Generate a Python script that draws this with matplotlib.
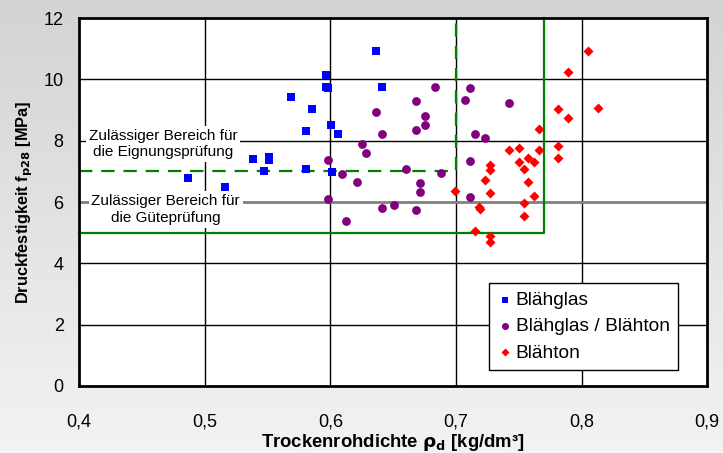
import numpy as np
import matplotlib
matplotlib.use("Agg")
import matplotlib.pyplot as plt

plt.rcParams['font.family'] = ['Liberation Sans', 'DejaVu Sans']

# Blähglas
glas_x = [0.487, 0.516, 0.5385, 0.551, 0.551, 0.547, 0.569, 0.5855, 0.581, 0.581,
          0.5965, 0.5965, 0.598, 0.6006, 0.606, 0.601, 0.636, 0.641]
glas_y = [6.78, 6.50, 7.40, 7.47, 7.38, 7.01, 9.44, 9.04, 8.33, 7.07,
          10.14, 9.76, 9.72, 8.50, 8.21, 6.97, 10.92, 9.76]

# Blähglas / Blähton
mix_x = [0.598, 0.598, 0.609, 0.6127, 0.621, 0.625, 0.628, 0.6366, 0.641, 0.641,
         0.651, 0.660, 0.668, 0.668, 0.668, 0.6715, 0.6715, 0.675, 0.675, 0.683,
         0.688, 0.707, 0.711, 0.711, 0.711, 0.715, 0.723, 0.742]
mix_y = [7.37, 6.11, 6.93, 5.39, 6.67, 7.89, 7.61, 8.94, 8.23, 5.82,
         5.90, 7.09, 9.28, 8.36, 5.75, 6.63, 6.33, 8.82, 8.51, 9.76,
         6.96, 9.32, 9.71, 7.33, 6.17, 8.21, 8.08, 9.22]

# Blähton
ton_x = [0.699, 0.715, 0.7185, 0.719, 0.723, 0.727, 0.727, 0.727, 0.727, 0.727,
         0.742, 0.750, 0.750, 0.754, 0.754, 0.754, 0.7575, 0.7575, 0.762, 0.762,
         0.766, 0.766, 0.781, 0.781, 0.781, 0.789, 0.789, 0.805, 0.813]
ton_y = [6.36, 5.04, 5.83, 5.77, 6.72, 7.21, 7.05, 6.28, 4.90, 4.70,
         7.69, 7.77, 7.32, 7.08, 5.98, 5.55, 7.43, 6.67, 7.32, 6.20,
         8.37, 7.70, 9.03, 7.83, 7.45, 10.23, 8.75, 10.93, 9.08]

# Grenzen der zulässigen Bereiche
eignung_rho, eignung_f = 0.70, 7.0
guete_rho, guete_f = 0.77, 5.0

fig = plt.figure(figsize=(7.23, 4.53), dpi=100)

# grauer Verlauf im Hintergrund
bg = fig.add_axes([0, 0, 1, 1], zorder=-10)
grad = np.linspace(0, 1, 256).reshape(-1, 1)
bg.imshow(grad, aspect='auto', cmap=matplotlib.colors.LinearSegmentedColormap.from_list(
    'bg', ['#d3d3d3', '#f3f3f3']), extent=[0, 1, 0, 1])
bg.axis('off')

ax = fig.add_axes([0.1093, 0.148, 0.869, 0.812])
ax.set_facecolor('white')
ax.set_xlim(0.4, 0.9)
ax.set_ylim(0, 12)
ax.set_xticks(np.arange(0.4, 0.91, 0.1))
ax.set_yticks(range(0, 13, 2))
ax.set_xticklabels([f"{v:.1f}".replace('.', ',') for v in ax.get_xticks()])
ax.tick_params(length=0, labelsize=13)
ax.tick_params(axis='x', pad=20)
ax.tick_params(axis='y', pad=11)

for v in [0.5, 0.6, 0.7, 0.8]:
    ax.axvline(v, color='black', lw=1, zorder=1)
for v in [2, 4, 8, 10]:
    ax.axhline(v, color='black', lw=1, zorder=1)
ax.axhline(6, color='#808080', lw=2, zorder=1)

for s in ax.spines.values():
    s.set_linewidth(2)
    s.set_zorder(5)

# Bereichsgrenzen
ax.plot([0.4, eignung_rho, eignung_rho], [eignung_f, eignung_f, 12],
        color='#008000', lw=1.6, ls=(0, (6, 4)), zorder=2, clip_on=False)
ax.plot([0.4, guete_rho, guete_rho], [guete_f, guete_f, 12],
        color='#008000', lw=1.6, zorder=2, clip_on=False)

box = dict(facecolor='white', edgecolor='none', pad=2)
ax.text(0.467, 7.89, "Zulässiger Bereich für\ndie Eignungsprüfung", ha='center', va='center',
        fontsize=11, bbox=box, zorder=3, linespacing=1.25)
ax.text(0.469, 5.76, "Zulässiger Bereich für\ndie Güteprüfung", ha='center', va='center',
        fontsize=11, bbox=box, zorder=3, linespacing=1.25)

ax.scatter(glas_x, glas_y, marker='s', s=30, color='#0000ff', lw=0, zorder=4, label='Blähglas')
ax.scatter(mix_x, mix_y, marker='o', s=40, color='#800080', lw=0, zorder=4, label='Blähglas / Blähton')
ax.scatter(ton_x, ton_y, marker='D', s=26, color='#ff0000', lw=0, zorder=4, label='Blähton')

leg = ax.legend(loc='lower right', bbox_to_anchor=(0.954, 0.043), fontsize=13.8,
                fancybox=False, framealpha=1, edgecolor='black', borderpad=0.45,
                handletextpad=0.15, handlelength=0.8, labelspacing=0.45,
                markerscale=0.8, borderaxespad=0)
leg.get_frame().set_linewidth(1)
leg.set_zorder(6)

ax.set_xlabel("Trockenrohdichte $\\mathbf{\\rho_d}$ [kg/dm³]", fontsize=13.3, fontweight='bold', labelpad=1)
ax.set_ylabel("Druckfestigkeit f$_\\mathbf{p28}$ [MPa]", fontsize=11.8, fontweight='bold', labelpad=6)

fig.savefig("out.png", dpi=100)
